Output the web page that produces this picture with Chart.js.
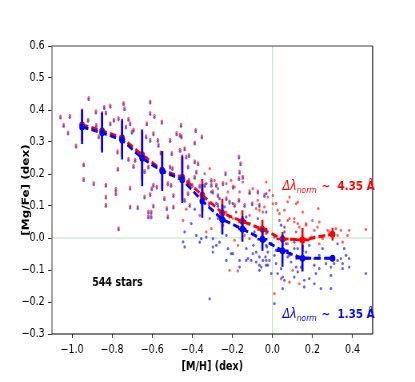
<!DOCTYPE html>
<html>
<head>
<meta charset="utf-8">
<script src="https://cdn.jsdelivr.net/npm/chart.js@4.4.1/dist/chart.umd.min.js"></script>
<style>
  html, body { margin: 0; padding: 0; background: #fff; overflow: hidden; }
  #wrap { width: 519px; height: 382px; transform: scaleX(0.7996); transform-origin: 0 0; }
</style>
</head>
<body>
<div id="wrap"><canvas id="chart"></canvas></div>
<script>
// ── binned means ──
const binX     = [-0.95, -0.85, -0.75, -0.65, -0.55, -0.45, -0.35, -0.25, -0.15, -0.05, 0.05, 0.15, 0.30];
const binXErr  = [0.005, 0.005, 0.005, 0.005, 0.005, 0.01, 0.01, 0.015, 0.02, 0.025, 0.03, 0.035, 0.012];
const redMean  = [0.354, 0.335, 0.313, 0.260, 0.212, 0.190, 0.134, 0.078, 0.052, 0.027, -0.003, -0.006, 0.012];
const redErr   = [0.050, 0.060, 0.060, 0.080, 0.060, 0.070, 0.050, 0.045, 0.035, 0.030, 0.022, 0.037, 0.020];
const blueMean = [0.347, 0.329, 0.306, 0.249, 0.209, 0.182, 0.116, 0.058, 0.028, -0.004, -0.040, -0.063, -0.063];
const blueErr  = [0.053, 0.062, 0.061, 0.087, 0.062, 0.073, 0.053, 0.047, 0.040, 0.036, 0.050, 0.042, 0.010];

const xTicks = [-1.0, -0.8, -0.6, -0.4, -0.2, 0.0, 0.2, 0.4];
const yTicks = [-0.3, -0.2, -0.1, 0.0, 0.1, 0.2, 0.3, 0.4, 0.5, 0.6];

// ── individual stars: [M/H], [Mg/Fe] red, [Mg/Fe] blue ──
const starsPaired = [
  [-1.058,0.381,0.375],[-1.042,0.355,0.349],[-1.020,0.331,0.325],[-1.011,0.383,0.377],[-0.980,0.290,0.284],
  [-0.942,0.232,0.226],[-0.917,0.439,0.433],[-0.920,0.371,0.365],[-0.881,0.397,0.391],[-0.879,0.355,0.349],
  [-0.867,0.319,0.313],[-0.839,0.411,0.405],[-0.831,0.394,0.388],[-0.809,0.415,0.409],[-0.809,0.360,0.354],
  [-0.791,0.371,0.365],[-0.773,0.272,0.266],[-0.768,0.376,0.370],[-0.743,0.423,0.417],[-0.738,0.407,0.401],
  [-0.731,0.350,0.344],[-0.718,0.374,0.368],[-0.710,0.360,0.354],[-0.701,0.334,0.328],[-0.718,0.249,0.243],
  [-0.693,0.340,0.334],[-0.685,0.246,0.240],[-0.627,0.360,0.354],[-0.630,0.319,0.313],[-0.610,0.428,0.422],
  [-0.610,0.392,0.386],[-0.589,0.383,0.377],[-0.594,0.329,0.323],[-0.610,0.308,0.302],[-0.572,0.308,0.302],
  [-0.569,0.293,0.287],[-0.552,0.365,0.359],[-0.557,0.269,0.263],[-0.627,0.251,0.245],[-0.619,0.225,0.219],
  [-0.511,0.308,0.302],[-0.502,0.267,0.261],[-0.499,0.220,0.214],[-0.478,0.329,0.323],[-0.461,0.324,0.318],
  [-0.456,0.355,0.349],[-0.461,0.277,0.271],
  [-0.942,0.186,0.180],[-0.892,0.173,0.167],[-0.831,0.168,0.162],[-0.831,0.131,0.125],[-0.831,0.105,0.099],
  [-0.781,0.155,0.149],[-0.781,0.142,0.136],[-0.768,0.032,0.026],[-0.771,0.218,0.212],[-0.710,0.159,0.153],
  [-0.710,0.100,0.094],[-0.672,0.098,0.092],[-0.693,0.227,0.221],[-0.638,0.131,0.125],[-0.638,0.211,0.205],
  [-0.619,0.084,0.078],[-0.619,0.069,0.063],[-0.605,0.084,0.078],[-0.605,0.069,0.063],[-0.610,0.139,0.133],
  [-0.602,0.157,0.151],[-0.594,0.103,0.097],[-0.594,0.168,0.162],[-0.577,0.162,0.156],[-0.539,0.126,0.120],
  [-0.522,0.173,0.167],[-0.522,0.069,0.063],[-0.527,0.095,0.089],[-0.506,0.168,0.162],[-0.494,0.100,0.094],
  [-0.494,0.136,0.130],[-0.511,0.225,0.219],
  [-0.454,0.319,0.313],[-0.438,0.282,0.276],[-0.430,0.256,0.250],[-0.416,0.261,0.255],[-0.388,0.300,0.294],
  [-0.383,0.339,0.333],[-0.352,0.319,0.313],[-0.388,0.241,0.235],[-0.371,0.235,0.229],[-0.421,0.225,0.219],
  [-0.380,0.209,0.203],[-0.388,0.193,0.187],[-0.416,0.183,0.177],[-0.400,0.168,0.162],[-0.363,0.165,0.159],
  [-0.338,0.168,0.162],[-0.305,0.183,0.177],[-0.305,0.168,0.162],[-0.280,0.168,0.162],[-0.247,0.173,0.167],
  [-0.234,0.204,0.198],[-0.197,0.162,0.156],[-0.167,0.256,0.250],[-0.159,0.235,0.229],[-0.164,0.209,0.203],
  [-0.167,0.189,0.183],[-0.148,0.193,0.187],[-0.114,0.147,0.141],[-0.073,0.147,0.141],[-0.040,0.136,0.130],
  [-0.297,0.147,0.141],[-0.272,0.136,0.130],[-0.230,0.126,0.120],[-0.317,0.110,0.104],[-0.272,0.105,0.099],
  [-0.214,0.115,0.109],[-0.189,0.105,0.099],[-0.167,0.121,0.115],[-0.139,0.105,0.099],[-0.101,0.110,0.104],
  [-0.065,0.105,0.099],[-0.421,0.142,0.136],[-0.438,0.121,0.115],[-0.413,0.105,0.099]
];

const starsRed = [
  [-0.430,0.090],[-0.446,0.055],[-0.330,0.019],[-0.313,0.061],[-0.247,0.040],[-0.230,0.081],[-0.197,0.061],
  [-0.114,0.071],[-0.081,0.092],[-0.048,0.081],[-0.297,0.087],[-0.363,0.071],[-0.189,-0.007],[-0.139,0.008],
  [-0.114,-0.002],[-0.048,-0.013],[-0.214,-0.101],[-0.173,-0.103],[-0.172,-0.023],[-0.305,0.029],
  [-0.031,0.175],[0.002,0.133],[0.002,0.107],[0.026,0.087],[0.085,0.128],[0.118,0.107],[0.126,0.112],
  [0.151,0.081],[0.229,0.092],[0.035,0.055],[0.076,0.055],[0.109,0.061],[0.126,0.045],[0.200,0.055],
  [0.234,0.050],[0.168,0.040],[0.225,0.034],[0.275,0.024],[0.342,0.024],[0.383,0.024],[0.466,0.027],
  [0.325,0.008],[0.209,0.003],[0.250,-0.002],[0.051,-0.002],[0.076,-0.018],[-0.006,-0.018],[0.010,-0.174],
  [0.043,-0.127],[0.085,-0.138],[0.101,-0.101],[0.134,-0.143],
  [-0.338,0.201],[-0.313,0.217],[-0.289,0.180],[-0.272,0.154],[-0.230,0.170],[-0.222,0.144],[-0.206,0.180],
  [-0.189,0.159],[-0.164,0.144],[-0.148,0.175],[-0.114,0.139],[-0.098,0.154],[-0.073,0.118],[-0.065,0.087],
  [-0.040,0.097],[-0.023,0.128],[-0.015,0.149],[0.018,0.108],[0.035,0.076],[0.060,0.087],[0.076,0.113],
  [0.085,0.061],[0.109,0.050],[0.118,0.019],[0.134,0.034],[0.168,0.045],[0.193,0.003],[0.209,0.024],
  [0.234,-0.018],[0.259,0.008],[0.284,0.019],[0.317,0.029],[0.350,-0.013],[0.375,0.008]
];

const starsBlue = [
  [-0.405,0.045],[-0.438,0.019],[-0.446,-0.012],[-0.438,-0.028],[-0.380,0.008],[-0.355,-0.002],[-0.363,-0.013],
  [-0.297,-0.002],[-0.280,-0.023],[-0.230,0.008],[-0.222,-0.033],[-0.197,-0.049],[-0.164,-0.070],[-0.130,-0.033],
  [-0.122,-0.064],[-0.106,-0.070],[-0.095,-0.023],[-0.081,-0.044],[-0.065,-0.059],[-0.048,-0.070],[-0.056,-0.091],
  [-0.035,-0.059],[-0.028,-0.028],[-0.388,0.090],[-0.272,0.061],[-0.313,-0.190],[-0.297,-0.044],
  [-0.081,-0.075],[-0.065,-0.085],[-0.031,-0.085],[0.010,-0.205],[0.051,-0.158],[0.159,-0.153],[0.209,-0.143],
  [0.242,-0.158],[0.292,-0.117],[0.292,-0.158],[0.383,-0.091],[0.466,-0.111],[0.350,-0.080],
  [-0.031,0.139],[-0.031,0.081],[0.060,0.034],
  [0.358,-0.033],[0.383,-0.064],[0.342,-0.064],[0.350,-0.096],[0.209,-0.085],[0.234,-0.096],[0.217,-0.111],
  [0.184,-0.127],[0.159,-0.132],[0.109,-0.122],[0.060,-0.132],[0.026,-0.111],[0.043,-0.096],[-0.023,-0.085],
  [-0.015,-0.070],[0.093,-0.075],[0.118,-0.091],[0.143,-0.091],[0.308,-0.080],[0.126,-0.106],[0.018,-0.038],
  [0.060,-0.044],[0.010,-0.054],[0.076,-0.059],[0.109,-0.033],[-0.031,-0.023],[-0.023,-0.044],[0.325,-0.018],
  [-0.330,0.170],[-0.305,0.144],[-0.280,0.108],[-0.264,0.123],[-0.239,0.097],[-0.214,0.066],[-0.198,0.108],
  [-0.181,0.081],[-0.164,0.050],[-0.131,0.066],[-0.114,0.045],[-0.090,0.019],[-0.073,0.061],[-0.056,0.034],
  [-0.031,0.014],[-0.006,-0.018],[0.010,0.003],[0.026,-0.038],[0.043,0.040],[0.060,0.019],[0.068,-0.018],
  [0.085,-0.054],[0.109,-0.013],[0.126,-0.033],[0.143,-0.002],[0.168,-0.044],[0.184,-0.023],[0.209,-0.064],
  [0.234,-0.054],[0.250,-0.033],[0.267,-0.080],[0.292,-0.091],[0.325,-0.070],[0.367,-0.054],
  [-0.330,0.003],[-0.297,-0.028],[-0.264,-0.013],[-0.230,-0.070],[-0.206,-0.049],[-0.164,-0.091],[-0.131,-0.070],
  [-0.098,-0.049],[-0.065,-0.101],[-0.031,-0.070],[-0.006,-0.111],[0.018,-0.080],[0.051,-0.122]
];

const RED = '#ff0000', BLUE = '#0000ff';
const FONT = '"DejaVu Sans", sans-serif';

const redPts  = starsPaired.map(s => ({ x: s[0], y: s[1] })).concat(starsRed.map(s => ({ x: s[0], y: s[1] })));
const bluePts = starsPaired.map(s => ({ x: s[0], y: s[2] })).concat(starsBlue.map(s => ({ x: s[0], y: s[1] })));
const redLine  = binX.map((x, i) => ({ x, y: redMean[i] }));
const blueLine = binX.map((x, i) => ({ x, y: blueMean[i] }));

function fmt(v) { return (v < 0 ? '\u2212' : '') + Math.abs(v).toFixed(1); }

// error bars, reference lines, frame and texts
const extras = {
  id: 'extras',
  beforeDatasetsDraw(chart) {
    const { ctx, chartArea: a, scales: { x, y } } = chart;
    ctx.save();
    ctx.strokeStyle = 'rgba(120,195,120,0.5)';
    ctx.lineWidth = 1.2;
    ctx.beginPath();
    ctx.moveTo(x.getPixelForValue(0), a.top); ctx.lineTo(x.getPixelForValue(0), a.bottom);
    ctx.moveTo(a.left, y.getPixelForValue(0)); ctx.lineTo(a.right, y.getPixelForValue(0));
    ctx.stroke();
    ctx.restore();
  },
  afterDatasetDraw(chart, args) {
    const ds = chart.data.datasets[args.index];
    if (!ds.errY) return;
    const { ctx, scales: { x, y } } = chart;
    ctx.save();
    ctx.strokeStyle = ds.borderColor;
    ctx.lineWidth = 2.6;
    ctx.beginPath();
    binX.forEach((bx, i) => {
      const px = x.getPixelForValue(bx), py = y.getPixelForValue(ds.data[i].y);
      ctx.moveTo(px, y.getPixelForValue(ds.data[i].y + ds.errY[i]));
      ctx.lineTo(px, y.getPixelForValue(ds.data[i].y - ds.errY[i]));
      ctx.moveTo(x.getPixelForValue(bx - binXErr[i]), py);
      ctx.lineTo(x.getPixelForValue(bx + binXErr[i]), py);
    });
    ctx.stroke();
    ctx.restore();
  },
  afterDraw(chart) {
    const { ctx, chartArea: a, scales: { x, y } } = chart;
    ctx.save();
    // frame
    ctx.lineWidth = 1.6;
    ctx.strokeStyle = '#808080';
    ctx.beginPath();
    ctx.moveTo(a.left, a.bottom); ctx.lineTo(a.left, a.top); ctx.lineTo(a.right, a.top);
    ctx.stroke();
    ctx.lineWidth = 1.2;
    ctx.strokeStyle = '#000';
    ctx.beginPath();
    ctx.moveTo(a.right, a.top); ctx.lineTo(a.right, a.bottom); ctx.lineTo(a.left, a.bottom);
    ctx.stroke();

    function normLabel(vx, vy, color, val) {
      let px = x.getPixelForValue(vx);
      const py = y.getPixelForValue(vy);
      ctx.fillStyle = color;
      ctx.textBaseline = 'alphabetic';
      ctx.textAlign = 'left';
      ctx.font = 'oblique 14px ' + FONT;
      ctx.fillText('\u0394\u03bb', px, py);
      px += ctx.measureText('\u0394\u03bb').width;
      ctx.font = 'oblique 9.5px ' + FONT;
      ctx.fillText('norm', px, py + 3);
      px += ctx.measureText('norm').width + 6;
      ctx.font = 'bold 13px ' + FONT;
      ctx.fillText('~  ' + val + ' \u00c5', px, py);
    }
    normLabel(0.05, 0.150, RED, '4.35');
    normLabel(0.05, -0.251, BLUE, '1.35');

    ctx.fillStyle = '#000';
    ctx.font = 'bold 12px ' + FONT;
    ctx.fillText('544 stars', x.getPixelForValue(-0.90), y.getPixelForValue(-0.151));
    ctx.restore();
  }
};

new Chart(document.getElementById('chart'), {
  type: 'scatter',
  data: {
    datasets: [
      { label: 'blue stars', data: bluePts, order: 6, pointRadius: 1.6, pointBorderWidth: 0,
        backgroundColor: 'rgba(0,0,255,0.62)', borderColor: 'rgba(0,0,255,0.62)' },
      { label: 'red stars', data: redPts, order: 5, pointRadius: 1.6, pointBorderWidth: 0,
        backgroundColor: 'rgba(255,0,0,0.62)', borderColor: 'rgba(255,0,0,0.62)' },
      { label: 'red mean', data: redLine, errY: redErr, order: 2, showLine: true, borderColor: RED,
        backgroundColor: RED, borderWidth: 3, borderDash: [8, 4], pointRadius: 3.5, pointBorderWidth: 0 },
      { label: 'blue mean', data: blueLine, errY: blueErr, order: 1, showLine: true, borderColor: BLUE,
        backgroundColor: BLUE, borderWidth: 3, borderDash: [8, 4], pointRadius: 3.5, pointBorderWidth: 0 }
    ]
  },
  options: {
    responsive: true,
    maintainAspectRatio: false,
    animation: false,
    layout: { padding: { top: 46, right: 53, left: 0, bottom: 0 } },
    plugins: { legend: { display: false }, tooltip: { enabled: false } },
    scales: {
      x: {
        type: 'linear', min: -1.1, max: 0.5,
        afterBuildTicks: s => { s.ticks = xTicks.map(v => ({ value: v })); },
        afterFit: s => { s.height = 48; },
        grid: { drawOnChartArea: false, drawTicks: true, tickLength: 4, color: '#333' },
        border: { display: false },
        ticks: { color: '#000', padding: 5, font: { family: FONT, size: 12 }, callback: v => fmt(v) },
        title: { display: true, text: '[M/H] (dex)', color: '#000', padding: { top: 0, bottom: 8 },
                 font: { family: FONT, size: 12, weight: 'bold' } }
      },
      y: {
        type: 'linear', min: -0.3, max: 0.6,
        afterBuildTicks: s => { s.ticks = yTicks.map(v => ({ value: v })); },
        afterFit: s => { s.width = 65; },
        grid: { drawOnChartArea: false, drawTicks: true, tickLength: 5, color: '#333' },
        border: { display: false },
        ticks: { color: '#000', padding: 4, font: { family: FONT, size: 12 }, callback: v => fmt(v) },
        title: { display: true, text: '[Mg/Fe] (dex)', color: '#000', padding: { top: 26, bottom: 0 },
                 font: { family: FONT, size: 12, weight: 'bold' } }
      }
    }
  },
  plugins: [extras]
});
</script>
</body>
</html>
